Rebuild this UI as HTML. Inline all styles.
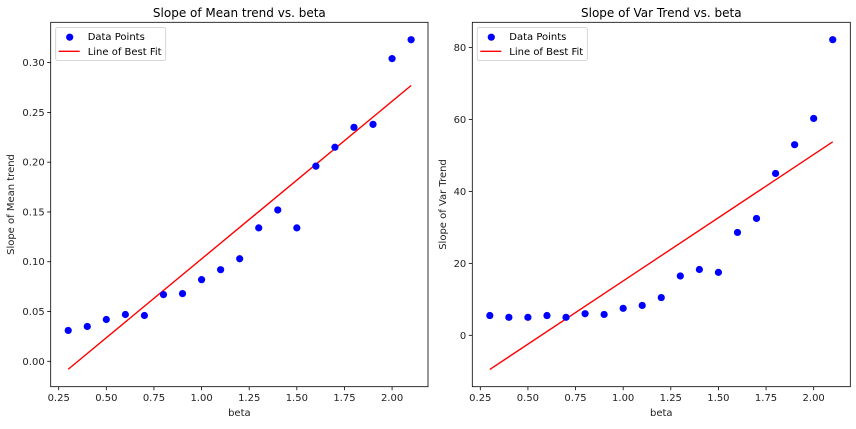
<!DOCTYPE html>
<html><head><meta charset="utf-8"><style>
body{margin:0;background:#fff;width:856px;height:424px;overflow:hidden}
svg{font-family:"DejaVu Sans","Liberation Sans",sans-serif}
</style></head><body>
<svg id="c" width="856" height="424"></svg>
<script>
const betas=[0.3,0.4,0.5,0.6,0.7,0.8,0.9,1.0,1.1,1.2,1.3,1.4,1.5,1.6,1.7,1.8,1.9,2.0,2.1];
const meanSlopes=[0.031,0.035,0.042,0.047,0.046,0.067,0.068,0.082,0.092,0.103,0.134,0.152,0.134,0.196,0.215,0.235,0.238,0.304,0.323];
const meanFit=[-0.008,0.277];
const varSlopes=[5.5,5.0,5.0,5.5,5.0,6.0,5.8,7.5,8.3,10.5,16.5,18.3,17.5,28.6,32.5,45.0,53.0,60.3,82.2];
const varFit=[-9.5,53.8];
const xTicks=[0.25,0.5,0.75,1.0,1.25,1.5,1.75,2.0];
const xTickLabels=["0.25","0.50","0.75","1.00","1.25","1.50","1.75","2.00"];
const meanTicks=[0,0.05,0.1,0.15,0.2,0.25,0.3];
const meanTickLabels=["0.00","0.05","0.10","0.15","0.20","0.25","0.30"];
const varTicks=[0,20,40,60,80];
const varTickLabels=["0","20","40","60","80"];

const svg=document.getElementById('c');
const NS='http://www.w3.org/2000/svg';
function mk(tag,attrs,parent){const e=document.createElementNS(NS,tag);for(const k in attrs)e.setAttribute(k,attrs[k]);(parent||svg).appendChild(e);return e;}

function panel(o){
  const g=mk('g',{});
  
  
  const X=v=>o.x0+(v-0.25)*o.xs;
  const Y=v=>o.y0-(v-o.yRef)*o.ys;
  // ticks x
  xTicks.forEach((t,i)=>{
    mk('line',{x1:X(t),x2:X(t),y1:386.7,y2:390.2,stroke:'#000','stroke-width':0.8},g);
    const tx=mk('text',{x:X(t),y:401,'font-size':10,'text-anchor':'middle',fill:'#222'},g);
    tx.textContent=xTickLabels[i];
    
    
  });
  o.yTicks.forEach((t,i)=>{
    mk('line',{x1:o.L-3.5,x2:o.L,y1:Y(t),y2:Y(t),stroke:'#000','stroke-width':0.8},g);
    const tx=mk('text',{x:o.L-6,y:Y(t)+3.5,'font-size':10,'text-anchor':'end',fill:'#222'},g);
    tx.textContent=o.yLabels[i];
    
    
  });
  // fit line
  const fl=mk('line',{x1:X(betas[0]),y1:Y(o.fit[0]),x2:X(betas[betas.length-1]),y2:Y(o.fit[1]),stroke:'#ff0000','stroke-width':1.4},g);
  
  
  o.vals.forEach((v,i)=>{
    const c=mk('circle',{cx:X(betas[i]),cy:Y(v),r:3.6,fill:'#0000ff'},g);
    
    
  });
  const fr=mk('rect',{x:o.L,y:22.3,width:o.R-o.L,height:364.4,fill:'none',stroke:'#000','stroke-width':0.8},g);
  
  
  const cx=(o.L+o.R)/2;
  const t=mk('text',{x:cx,y:17,'font-size':12,'text-anchor':'middle',fill:'#000'},g);
  t.textContent=o.title;
  
  
  const xl=mk('text',{x:cx,y:416,'font-size':10,'text-anchor':'middle',fill:'#222'},g);
  xl.textContent='beta';
  
  
  const yl=mk('text',{x:0,y:0,'font-size':10,'text-anchor':'middle',fill:'#222',transform:`translate(${o.ylx},${204.5}) rotate(-90)`},g);
  yl.textContent=o.ylabel;
  
  
  // legend
  const lg=mk('g',{},g);
  
  
  mk('rect',{x:o.L+5,y:27.5,width:o.lw,height:33,rx:2,fill:'#fff',stroke:'#ccc','stroke-width':0.8},lg);
  mk('circle',{cx:o.L+19,cy:37.2,r:3.6,fill:'#0000ff'},lg);
  mk('line',{x1:o.L+8,x2:o.L+29,y1:51.3,y2:51.3,stroke:'#ff0000','stroke-width':1.4},lg);
  const a=mk('text',{x:o.L+37,y:40,'font-size':10,fill:'#000'},lg);a.textContent='Data Points';
  
  
  const b=mk('text',{x:o.L+37,y:55,'font-size':10,fill:'#000'},lg);b.textContent='Line of Best Fit';
  
  
}
panel({name:'mean-trend-panel',L:50.7,R:428,x0:58.7,xs:190.5,y0:361.3,yRef:0,ys:995.6,yTicks:meanTicks,yLabels:meanTickLabels,vals:meanSlopes,fit:meanFit,title:'Slope of Mean trend vs. beta',ylabel:'Slope of Mean trend',ylx:14,lw:110});
panel({name:'var-trend-panel',L:472.3,R:850.3,x0:480.3,xs:190.5,y0:335.3,yRef:0,ys:3.596,yTicks:varTicks,yLabels:varTickLabels,vals:varSlopes,fit:varFit,title:'Slope of Var Trend vs. beta',ylabel:'Slope of Var Trend',ylx:446,lw:110});
</script>
</body></html>
